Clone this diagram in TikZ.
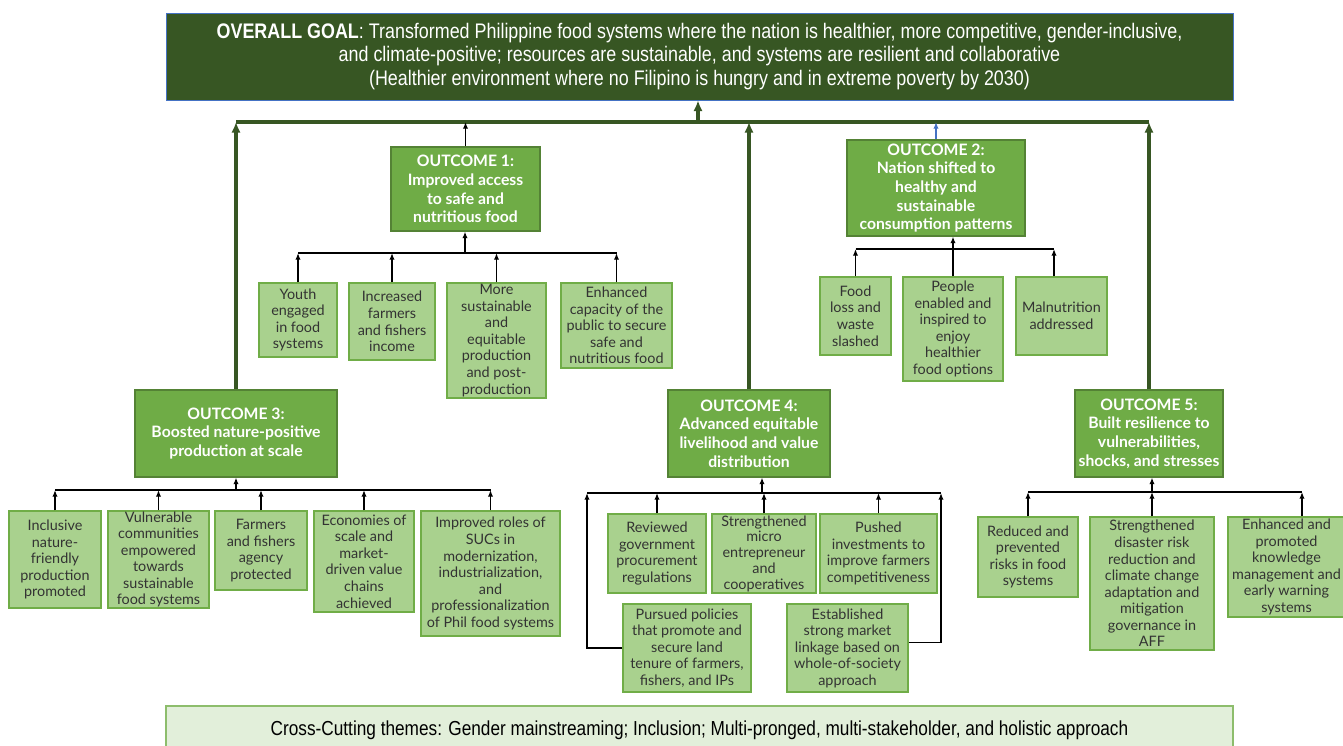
\documentclass[tikz,border=0pt]{standalone}
\usepackage{fontspec}
\setmainfont{Lato}
\newfontfamily\narrowfont[FakeStretch=0.85]{Liberation Sans}
\usetikzlibrary{arrows.meta}
\definecolor{goalgreen}{HTML}{375623}
\definecolor{goalborder}{HTML}{4472C4}
\definecolor{outfill}{HTML}{6FAC46}
\definecolor{outdraw}{HTML}{548235}
\definecolor{subfill}{HTML}{A9D18E}
\definecolor{subdraw}{HTML}{70AD47}
\definecolor{crossfill}{HTML}{E2EFDA}
\definecolor{subtext}{HTML}{333333}
\definecolor{bluearr}{HTML}{4472C4}
\newcommand\bx[7]{\node[#6, minimum width={(#4-#2)*0.75pt}, minimum height={(#5-#3)*0.75pt}] (#1) at ({(#2+#4)/2},{(#3+#5)/2}) {#7};}
\tikzset{
  goalbox/.style={draw=goalborder, line width=0.6pt, fill=goalgreen, text=white, inner sep=0pt, align=center, font=\narrowfont\fontsize{15.8}{17.8}\selectfont},
  outbox/.style={draw=outdraw, line width=0.8pt, fill=outfill, text=white, inner sep=0pt, align=center, font=\bfseries\fontsize{11.8}{14}\selectfont},
  subbox/.style={draw=subdraw, line width=0.8pt, fill=subfill, text=subtext, inner sep=0pt, align=center, font=\fontsize{10.8}{12.4}\selectfont},
  crossbox/.style={draw=subdraw!80, line width=0.8pt, fill=crossfill, text=black, inner sep=0pt, align=center, font=\narrowfont\fontsize{15.2}{17}\selectfont},
  garr/.style={draw=goalgreen, line width=2.3pt, -{Latex[length=8pt,width=7pt]}},
  gline/.style={draw=goalgreen, line width=2.3pt},
  barr/.style={draw=black, line width=1pt, -{Latex[length=5pt,width=4pt]}},
  bline/.style={draw=black, line width=1pt},
  blarr/.style={draw=bluearr, line width=1pt, -{Latex[length=5pt,width=4pt]}},
}
\begin{document}
\begin{tikzpicture}[x=0.75pt,y=-0.75pt]
\useasboundingbox (0,0) rectangle (1343,746);
% goal
\bx{goal}{166}{13}{1233}{100}{goalbox}{\textbf{OVERALL GOAL}: Transformed Philippine food systems where the nation is healthier, more competitive, gender-inclusive,\\and climate-positive; resources are sustainable, and systems are resilient and collaborative\\(Healthier environment where no Filipino is hungry and in extreme poverty by 2030)}
% outcomes
\bx{o1}{391}{147}{540}{231}{outbox}{OUTCOME 1:\\Improved access\\to safe and\\nutritious food}
\bx{o2}{847}{140}{1025}{236}{outbox}{OUTCOME 2:\\Nation shifted to\\healthy and\\sustainable\\consumption patterns}
\bx{o3}{135}{390}{337}{477}{outbox}{OUTCOME 3:\\Boosted nature-positive\\production at scale}
\bx{o4}{668}{390}{830}{477}{outbox}{OUTCOME 4:\\Advanced equitable\\livelihood and value\\distribution}
\bx{o5}{1075}{390}{1223}{477}{outbox}{OUTCOME 5:\\Built resilience to\\vulnerabilities,\\shocks, and stresses}
% outcome 1 subs
\bx{s11}{259}{283}{337}{357}{subbox}{Youth\\engaged\\in food\\systems}
\bx{s12}{349}{283}{435}{360}{subbox}{Increased\\farmers\\and fishers\\income}
\bx{s13}{447}{283}{546}{398}{subbox}{More\\sustainable\\and\\equitable\\production\\and post-\\production}
\bx{s14}{561}{283}{672}{368}{subbox}{Enhanced\\capacity of the\\public to secure\\safe and\\nutritious food}
% outcome 2 subs
\bx{s21}{820}{277}{891}{355}{subbox}{Food\\loss and\\waste\\slashed}
\bx{s22}{903}{277}{1003}{381}{subbox}{People\\enabled and\\inspired to\\enjoy\\healthier\\food options}
\bx{s23}{1016}{277}{1107}{355}{subbox}{Malnutrition\\addressed}
% outcome 3 subs
\bx{s31}{9}{511}{101}{608}{subbox}{Inclusive\\nature-\\friendly\\production\\promoted}
\bx{s32}{108}{511}{209}{608}{subbox}{Vulnerable\\communities\\empowered\\towards\\sustainable\\food systems}
\bx{s33}{215}{511}{307}{590}{subbox}{Farmers\\and fishers\\agency\\protected}
\bx{s34}{314}{511}{414}{612}{subbox}{Economies of\\scale and\\market-\\driven value\\chains\\achieved}
\bx{s35}{421}{511}{560}{636}{subbox}{Improved roles of\\SUCs in\\modernization,\\industrialization,\\and\\professionalization\\of Phil food systems}
% outcome 4 subs
\bx{s41}{608}{514}{706}{593}{subbox}{Reviewed\\government\\procurement\\regulations}
\bx{s42}{712}{514}{816}{593}{subbox, font=\fontsize{10.8}{11.8}\selectfont}{Strengthened\\micro\\entrepreneur\\and\\cooperatives}
\bx{s43}{820}{514}{937}{593}{subbox}{Pushed\\investments to\\improve farmers\\competitiveness}
\bx{s44}{623}{604}{751}{692}{subbox}{Pursued policies\\that promote and\\secure land\\tenure of farmers,\\fishers, and IPs}
\bx{s45}{787}{604}{908}{692}{subbox}{Established\\strong market\\linkage based on\\whole-of-society\\approach}
% outcome 5 subs
\bx{s51}{978}{517}{1078}{597}{subbox}{Reduced and\\prevented\\risks in food\\systems}
\bx{s52}{1090}{517}{1214}{650}{subbox}{Strengthened\\disaster risk\\reduction and\\climate change\\adaptation and\\mitigation\\governance in\\AFF}
\bx{s53}{1228}{517}{1345}{617}{subbox}{Enhanced and\\promoted\\knowledge\\management and\\early warning\\systems}
% cross cutting
\bx{cross}{166}{706}{1233}{756}{crossbox}{\raisebox{4pt}{Cross-Cutting themes: Gender mainstreaming; Inclusion; Multi-pronged, multi-stakeholder, and holistic approach}}
% coordinates
\coordinate (top) at (698,122);
\coordinate (l1) at (465,253);
\coordinate (l2) at (953,249);
\coordinate (l3) at (236,490);
\coordinate (l4) at (762,493);
\coordinate (l5) at (1152,492);
\coordinate (l4L) at (587,493);
\coordinate (l4R) at (941,493);
\coordinate (l5R) at (1302,492);
\coordinate (l2R) at (1054,249);
% top level
\draw[gline] (o3.north |- top) -- (o5.north |- top);
\draw[garr] (top) -- (top |- goal.south);
\draw[garr] (o3.north) -- (o3.north |- top);
\draw[garr] (o4.north) -- (o4.north |- top);
\draw[garr] (o5.north) -- (o5.north |- top);
\draw[barr] (o1.north) -- (o1.north |- top);
\draw[blarr] (o2.north) -- (o2.north |- top);
% outcome 1
\draw[bline] (s11.north |- l1) -- (s14.north |- l1);
\draw[barr] (l1) -- (l1 |- o1.south);
\foreach \s in {s11,s12,s13,s14} \draw[barr] (\s.north) -- (\s.north |- l1);
% outcome 2
\draw[bline] (s21.north |- l2) -- (l2R);
\draw[barr] (s22.north) -- (s22.north |- o2.south);
\draw[barr] (s21.north) -- (s21.north |- l2);
\draw[barr] (s23.north -| l2R) -- (l2R);
% outcome 3
\draw[bline] (s31.north |- l3) -- (s35.north |- l3);
\draw[barr] (l3) -- (l3 |- o3.south);
\foreach \s in {s31,s32,s33,s34,s35} \draw[barr] (\s.north) -- (\s.north |- l3);
% outcome 4
\draw[bline] (l4L) -- (l4R);
\draw[barr] (l4) -- (l4 |- o4.south);
\foreach \s in {s41,s42,s43} \draw[barr] (\s.north) -- (\s.north |- l4);
\draw[barr] (s44.west) -| (l4L);
\draw[barr] ([yshift=4pt]s45.east) -| (l4R);
% outcome 5
\draw[bline] (s51.north |- l5) -- (l5R);
\draw[barr] (l5) -- (l5 |- o5.south);
\draw[barr] (s51.north) -- (s51.north |- l5);
\draw[barr] (s52.north) -- (s52.north |- l5);
\draw[barr] (s53.north -| l5R) -- (l5R);
\end{tikzpicture}
\end{document}
